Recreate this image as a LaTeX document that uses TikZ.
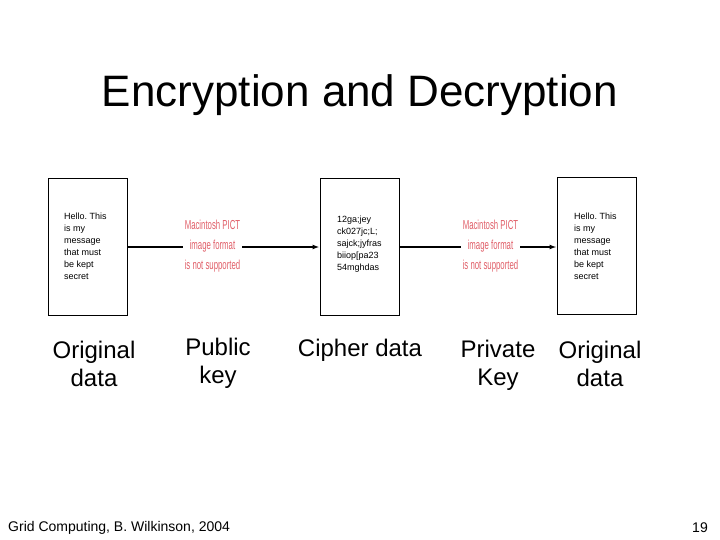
\documentclass[tikz,border=0pt]{standalone}
\usepackage{fontspec}
\setmainfont{Liberation Sans}
\usetikzlibrary{arrows.meta}
\definecolor{pict}{RGB}{225,95,105}
\frenchspacing
\tikzset{
  box/.style={draw, line width=0.9pt, minimum width=79pt, minimum height=137pt, inner sep=0pt},
  small/.style={font=\fontsize{9}{12}\selectfont, align=left, inner sep=0pt, anchor=west},
  lbl/.style={font=\fontsize{24}{28}\selectfont, align=center, inner sep=0pt},
  arr/.style={line width=1.6pt, -{Latex[length=7pt,width=5pt]}},
  pictimg/.style={fill=white, minimum width=59pt, minimum height=62pt, inner sep=0pt, text=pict,
     font=\fontsize{13}{20}\selectfont, align=center},
}
\newcommand{\nx}[1]{\scalebox{0.6}[1]{#1}}
\begin{document}
\begin{tikzpicture}[x=1pt,y=-1pt]
\useasboundingbox (0,0) rectangle (720,540);
\node[font=\fontsize{44}{50}\selectfont, inner sep=0pt] (title) at (360,95) {Encryption and Decryption};
% boxes
\node[box] (b1) at (87.5,247) {};
\node[box] (b2) at (359.5,247) {};
\node[box] (b3) at (596.5,246) {};
\node[small] (t1) at (64,246) {Hello. This\\is my\\message\\that must\\be kept\\secret};
\node[small] (t2) at (337,244) {12ga;jey\\ck027jc;L;\\sajck;jyfras\\biiop[pa23\\54mghdas};
\node[small] (t3) at (574,246) {Hello. This\\is my\\message\\that must\\be kept\\secret};
% arrows
\draw[arr] (b1.east) -- (b2.west);
\draw[arr] (b2.east) -- (b3.west |- b2.east);
% PICT placeholders
\node[pictimg] (p1) at (212.5,246) {\nx{Macintosh PICT}\\\nx{image format}\\\nx{is not supported}};
\node[pictimg] (p2) at (490.5,246) {\nx{Macintosh PICT}\\\nx{image format}\\\nx{is not supported}};
% labels
\node[lbl] (l1) at (94,364) {Original\\data};
\node[lbl] (l2) at (218,363) {Public\\key};
\node[lbl] (l3) at (360,350) {Cipher data};
\node[lbl] (l4) at (498,365) {Private\\Key};
\node[lbl] (l5) at (600,364) {Original\\data};
% footer
\node[font=\fontsize{14}{16}\selectfont, inner sep=0pt, anchor=west] (foot) at (8,528) {Grid Computing, B. Wilkinson, 2004};
\node[font=\fontsize{14}{16}\selectfont, inner sep=0pt, anchor=east] (page) at (708,528) {19};
\end{tikzpicture}
\end{document}
